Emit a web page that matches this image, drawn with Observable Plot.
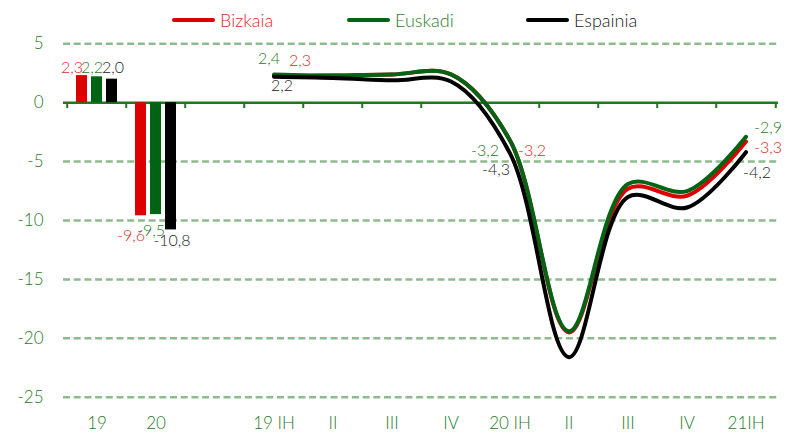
<!DOCTYPE html>
<html><head><meta charset="utf-8">
<script src="https://cdn.jsdelivr.net/npm/d3@7"></script>
<script src="https://cdn.jsdelivr.net/npm/@observablehq/plot@0.6"></script>
<style>
body{margin:0;background:#fff;font-family:Lato,"Open Sans",sans-serif;overflow:hidden}
#legend{position:relative;height:36px;width:785px}
.item{position:absolute;top:2px;height:36px;display:flex;align-items:center}
.sw{width:43px;height:4px;border-radius:2px;margin-right:5px}
.item span{font-size:18px;font-weight:300}
</style></head><body>
<div id="legend"></div><div id="chart"></div>
<script>
// ---- data ----
const categories = ["19","20","","19 IH","II","III","IV","20 IH","II","III","IV","21IH"];
const yearKeys = [0, 1];
const quarterKeys = [3,4,5,6,7,8,9,10,11];
const seriesNames = ["Bizkaia","Euskadi","Espainia"];
const bizkaiaYear = [2.3, -9.6];
const euskadiYear = [2.2, -9.5];
const espainiaYear = [2.0, -10.8];
const bizkaiaQ = [2.3, 2.3, 2.4, 2.4, -3.2, -19.5, -7.3, -7.9, -3.3];
const euskadiQ = [2.4, 2.3, 2.4, 2.4, -3.2, -19.4, -6.9, -7.5, -2.9];
const espainiaQ = [2.2, 2.1, 1.9, 1.8, -4.3, -21.6, -8.0, -8.9, -4.2];
const yTicks = [5, 0, -5, -10, -15, -20, -25];

// ---- styles ----
const barColors = ["#dd0000", "#006414", "#000000"];
const textColors = ["#e02a2a", "#1f7a28", "#1a1a1a"];
const axisGreen = "#1f7a28";

const fmt = v => d3.format(".1f")(v).replace(".", ",").replace("\u2212", "-");

// legend
const legend = document.getElementById("legend");
const legendLeft = [172, 347, 526];
seriesNames.forEach((n, i) => {
  const it = document.createElement("div");
  it.className = "item";
  it.style.left = legendLeft[i] + "px";
  it.innerHTML = `<div class="sw" style="background:${barColors[i]}"></div><span style="color:${textColors[i]}">${n}</span>`;
  legend.appendChild(it);
});

const W = 785, H = 400, mL = 63, mR = 7;
const bw = (W - mL - mR) / categories.length;

const yearSeries = [bizkaiaYear, euskadiYear, espainiaYear];
const qSeries = [bizkaiaQ, euskadiQ, espainiaQ];
const barDx = [-15, 0, 15];
const barLabelDx = [-25, -5, 16];
const barLabelDyPos = [-8, -9, -11];
const barLabelDyNeg = [20, 16, 11];

const marks = [
  Plot.ruleY(yTicks.filter(d => d !== 0), {stroke: "#8dbb8d", strokeWidth: 2.5, strokeDasharray: "7,3.7"}),
  Plot.ruleY([0], {stroke: "#1e7a1e", strokeWidth: 2.5}),
  Plot.ruleX(d3.range(categories.length), {x: d => d, y1: 0, y2: -0.5, dx: -bw / 2, stroke: "#1e7a1e", strokeWidth: 2}),
  Plot.ruleX([categories.length - 1], {x: d => d, y1: 0, y2: -0.5, dx: bw / 2, stroke: "#1e7a1e", strokeWidth: 2}),
];

yearSeries.forEach((vals, s) => {
  marks.push(Plot.barY(yearKeys, {x: d => d, y: (d, i) => vals[i], fill: barColors[s], insetLeft: 24, insetRight: 24, dx: barDx[s]}));
});
yearSeries.forEach((vals, s) => {
  const pts = yearKeys.map((k, i) => ({k, v: vals[i]}));
  marks.push(Plot.text(pts.filter(d => d.v >= 0), {x: "k", y: "v", text: d => fmt(d.v), fill: textColors[s], fontSize: 16, dx: barLabelDx[s], dy: barLabelDyPos[s]}));
  marks.push(Plot.text(pts.filter(d => d.v < 0), {x: "k", y: "v", text: d => fmt(d.v), fill: textColors[s], fontSize: 16, dx: barLabelDx[s], dy: barLabelDyNeg[s]}));
});
qSeries.forEach((vals, s) => {
  marks.push(Plot.line(quarterKeys, {x: d => d, y: (d, i) => vals[i], stroke: barColors[s], strokeWidth: 4, curve: "catmull-rom", strokeLinecap: "round"}));
});

function lineLabel(s, qi, dx, dy) {
  const vals = qSeries[s];
  return Plot.text([qi], {x: i => quarterKeys[i], y: i => vals[i], text: i => fmt(vals[i]), fill: textColors[s], fontSize: 16, dx, dy});
}
marks.push(
  lineLabel(1, 0, -5, -16), lineLabel(0, 0, 26, -15), lineLabel(2, 0, 8, 9),
  lineLabel(1, 4, -25, 10), lineLabel(0, 4, 22, 10), lineLabel(2, 4, -14, 17),
  lineLabel(1, 8, 22, -9), lineLabel(0, 8, 22, 6), lineLabel(2, 8, 11, 21)
);

marks.push(
  Plot.axisY(yTicks, {tickSize: 0, tickPadding: 20, tickFormat: d => String(d), fontSize: 17, color: axisGreen, fill: axisGreen, label: null}),
  Plot.axisX({tickSize: 0, tickPadding: 20, tickFormat: i => categories[i], fontSize: 17, color: axisGreen, fill: axisGreen, label: null})
);

const chart = Plot.plot({
  width: W, height: H,
  marginLeft: mL, marginRight: mR, marginTop: 7.3, marginBottom: 39.3,
  style: {fontFamily: "Lato, 'Open Sans', sans-serif", fontWeight: 300, background: "#fff", overflow: "visible"},
  x: {type: "band", domain: d3.range(categories.length), padding: 0, axis: null},
  y: {domain: [-25, 5], axis: null},
  marks
});
document.getElementById("chart").appendChild(chart);
</script>
</body></html>
